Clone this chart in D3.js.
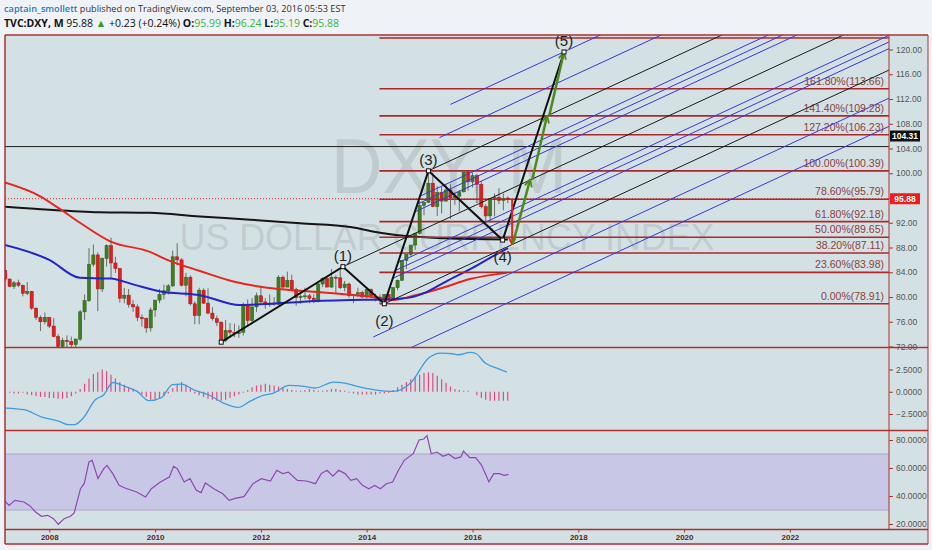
<!DOCTYPE html>
<html>
<head>
<meta charset="utf-8">
<script src="https://cdn.jsdelivr.net/npm/d3@7"></script>
<style>
  body { margin: 0; background: #eff2f6; }
  svg { display: block; font-family: "Liberation Sans", Arial, sans-serif; }
</style>
</head>
<body>
<svg id="chart" width="932" height="550"></svg>
<script>
// DXY monthly candles, first bar = March 2007
var firstYear = 2007, firstMonth = 3;
var opens = [84.3,82.9,81.7,82.3,81.9,80.6,80.9,78.2,76.7,76.0,
  76.7,75.3,73.6,72.0,73.0,72.8,72.3,73.2,77.6,79.4,85.3,86.8,
  81.3,86.2,88.3,85.5,84.6,79.8,80.3,78.8,78.4,76.7,76.5,75.0,
  77.9,79.5,80.4,81.0,81.8,86.5,86.0,81.9,83.2,78.9,77.0,81.1,
  79.0,77.4,76.5,75.9,73.0,74.6,74.3,74.1,74.3,78.6,76.2,78.4,
  80.2,79.2,78.9,79.0,78.8,83.2,81.6,82.7,81.2,79.9,80.1,80.2,
  79.8,79.3,82.1,83.0,81.6,83.2,83.1,81.5,82.1,80.2,80.4,80.7,
  80.0,81.2,80.1,80.0,79.5,80.4,79.8,81.5,82.7,85.9,86.9,88.4,
  90.3,94.8,95.3,98.4,94.6,96.9,95.5,97.3,96.0,96.3,97.0,100.2,
  98.6,99.6,98.2,94.6,93.1,95.9,96.1,95.6,95.99];
var highs = [84.5,83.0,82.6,82.8,82.0,82.4,81.0,78.3,77.0,77.5,
  76.8,76.6,74.0,73.4,73.8,73.6,73.3,77.9,80.4,87.9,88.5,87.2,
  86.4,88.5,89.6,86.5,84.7,81.5,81.3,79.5,78.8,77.2,76.7,78.3,
  79.5,81.3,82.0,82.1,87.5,88.7,86.3,83.9,83.5,79.3,81.5,81.4,
  81.4,78.4,77.0,76.1,76.3,75.8,75.7,75.4,79.1,79.6,79.8,80.7,
  81.8,79.8,80.4,80.0,83.5,83.5,84.1,83.6,81.5,80.4,81.5,80.5,
  80.4,82.3,83.2,83.4,84.5,83.5,84.75,82.6,82.3,80.5,81.5,81.0,
  81.4,81.4,80.5,80.4,80.5,81.0,81.6,82.8,86.0,87.0,88.4,90.4,
  95.5,95.3,100.39,100.1,97.9,97.8,98.2,98.3,97.0,97.3,100.2,100.5,
  100.1,99.9,98.7,95.0,96.0,96.7,97.6,96.7,96.24];
var lows = [82.6,81.6,81.3,81.6,80.1,80.3,77.9,76.3,74.5,75.6,
  75.0,73.5,70.7,71.3,71.9,71.8,71.3,72.9,76.3,79.2,84.9,77.7,
  80.8,84.9,83.0,83.9,79.1,79.0,78.3,77.6,76.1,75.2,74.2,74.4,
  76.8,79.0,79.6,80.4,81.6,85.1,81.7,80.1,78.6,75.6,75.6,78.9,
  77.2,76.2,75.3,72.9,72.7,73.4,73.5,73.4,73.8,75.3,75.9,77.6,
  78.9,78.1,78.4,78.6,78.7,81.4,81.6,81.1,78.6,78.9,79.6,79.0,
  79.0,79.1,81.6,81.6,81.5,80.5,81.3,80.9,79.9,79.0,80.0,79.8,
  79.8,79.8,79.3,79.0,78.91,79.7,79.8,81.1,82.6,84.5,86.5,87.6,
  90.1,93.2,95.2,94.5,93.1,93.5,95.4,92.6,94.9,93.8,96.9,97.2,
  97.7,95.2,94.3,91.9,92.0,93.0,95.0,94.0,95.19];
var closes = [82.9,81.7,82.3,81.9,80.6,80.9,78.2,76.7,76.0,76.7,
  75.3,73.6,72.0,73.0,72.8,72.3,73.2,77.6,79.4,85.3,86.8,81.3,
  86.2,88.3,85.5,84.6,79.8,80.3,78.8,78.4,76.7,76.5,75.0,77.9,
  79.5,80.4,81.0,81.8,86.5,86.0,81.9,83.2,78.9,77.0,81.1,79.0,
  77.4,76.5,75.9,73.0,74.6,74.3,74.1,74.3,78.6,76.2,78.4,80.2,
  79.2,78.9,79.0,78.8,83.2,81.6,82.7,81.2,79.9,80.1,80.2,79.8,
  79.3,82.1,83.0,81.6,83.2,83.1,81.5,82.1,80.2,80.4,80.7,80.0,
  81.2,80.1,80.0,79.5,80.4,79.8,81.5,82.7,85.9,86.9,88.4,90.3,
  94.8,95.3,98.4,94.6,96.9,95.5,97.3,96.0,96.3,97.0,100.2,98.6,
  99.6,98.2,94.6,93.1,95.9,96.1,95.6,95.9,95.88];

// moving averages (decimal year, price)
var maBlackDates = [2007.16,2008.0,2008.95,2009.9,2010.85,2011.8,2012.74,2013.69,2014.25,2014.8,2015.5,2016.67];
var maBlackValues = [94.6,94.1,93.7,93.6,93.0,92.5,91.9,91.3,90.4,89.8,89.5,89.3];
var maRedDates = [2007.16,2007.82,2008.17,2008.58,2009.15,2009.9,2010.23,2010.85,2011.48,2012.12,2012.75,2013.37,2014.0,2014.5,2014.88,2015.44,2015.95,2016.65];
var maRedValues = [98.5,96.3,94.4,92.0,89.0,87.3,86.0,84.2,82.5,81.5,81.0,80.6,80.1,79.5,80.2,81.5,82.9,83.9];
var maBlueDates = [2007.16,2008.0,2008.58,2009.15,2009.6,2010.1,2010.85,2011.6,2012.2,2012.74,2013.69,2014.3,2014.8,2015.13,2015.5,2016.0,2016.39,2016.67];
var maBlueValues = [88.4,86.0,83.1,83.0,82.0,80.9,80.3,78.7,78.9,79.2,79.5,79.6,79.9,80.8,82.5,84.7,86.6,87.9];

// fibonacci extension levels
var fibStart = 2014.24;
var fibLevels = [0, 0.236, 0.382, 0.5, 0.618, 0.786, 1, 1.272, 1.414, 1.618, 2];
var fibPrices = [78.91, 83.98, 87.11, 89.65, 92.18, 95.79, 100.39, 106.23, 109.28, 113.66, 121.87];

// elliott wave points
var waveDates = [2011.25, 2013.55, 2014.333, 2015.167, 2016.57, 2017.73];
var wavePrices = [72.7, 84.9, 78.91, 100.39, 89.2, 119.6];
var waveLabels = ["", "(1)", "(2)", "(3)", "(4)", "(5)"];

// pitchfork on waves 1,2,3
var pitchforkLevels = [-2, -1.5, -1, -0.618, -0.5, -0.382, 0, 0.382, 0.5, 0.618, 1, 1.5, 2];

// projection arrows
var redArrowDates = [2016.75, 2016.75];
var redArrowPrices = [95.9, 88.5];
var greenArrowDates = [[2016.76, 2017.09], [2017.13, 2017.41], [2017.45, 2017.73]];
var greenArrowPrices = [[88.5, 99.0], [99.0, 109.3], [109.3, 119.6]];

var hLinePrice = 104.31;
var lastPrice = 95.88;

// MACD (12,26,9)
var macdDates = [2007.18,2007.52,2007.86,2008.19,2008.36,2008.47,2008.64,2008.87,2009.03,2009.2,2009.43,2009.66,2009.88,2010.11,2010.33,2010.5,2010.73,2011.01,2011.29,2011.57,2011.79,2012.02,2012.24,2012.53,2012.81,2013.03,2013.37,2013.59,2013.82,2014.16,2014.5,2014.83,2015.17,2015.4,2015.62,2015.73,2015.96,2016.07,2016.24,2016.46,2016.65];
var macdValues = [-1.83,-2.02,-2.84,-3.33,-3.7,-3.7,-2.96,-0.9,-0.34,1.04,0.6,0.04,-1.0,-0.7,0.8,0.86,0.22,-0.34,-1.27,-1.76,-1.09,-0.45,-0.15,0.71,0.6,0.42,1.09,0.98,0.6,0.22,0.04,0.98,3.79,4.35,4.27,4.16,4.42,4.27,3.22,2.66,2.21];
var macdHist = [-0.1,-0.1,-0.2,-0.2,-0.1,-0.3,-0.4,-0.5,-0.6,-0.6,-0.7,-0.7,-0.8,-0.8,-0.7,-0.5,-0.2,
  0.3,0.9,1.5,2.0,2.2,2.5,2.3,1.9,1.5,1.1,0.8,0.5,0.3,0.1,
  -0.3,-0.6,-0.9,-1.0,-0.8,-0.5,-0.2,
  0.4,0.9,1.1,0.8,0.4,
  -0.2,-0.4,-0.6,-0.8,-0.9,-1.0,-1.0,-0.9,-0.7,-0.5,-0.3,-0.1,
  0.2,0.5,0.7,0.8,0.9,0.8,0.7,0.6,0.4,0.3,0.2,0.1,
  0.1,0.2,0.3,0.2,0.1,0.1,0.2,0.3,0.3,0.2,0.1,
  -0.1,-0.2,-0.3,-0.3,-0.3,-0.3,-0.3,-0.2,-0.2,-0.1,
  0.2,0.5,0.8,1.1,1.4,1.7,1.9,2.1,2.2,2.1,1.8,1.4,1.0,0.6,
  0.3,0.2,0.1,0.1,0.0,
  -0.4,-0.7,-0.9,-1.0,-1.0,-1.0,-1.0,-1.0];

// RSI(14)
var rsiDates = [2007.16,2007.24,2007.35,2007.52,2007.63,2007.74,2007.85,2007.97,2008.08,2008.17,2008.28,2008.4,2008.47,2008.59,2008.66,2008.75,2008.81,2008.92,2009.03,2009.09,2009.2,2009.32,2009.43,2009.65,2009.82,2009.93,2010.1,2010.27,2010.35,2010.42,2010.55,2010.66,2010.78,2010.87,2010.95,2011.11,2011.28,2011.4,2011.51,2011.68,2011.85,2012.01,2012.18,2012.3,2012.41,2012.52,2012.69,2012.86,2013.03,2013.14,2013.25,2013.36,2013.47,2013.59,2013.7,2013.81,2013.92,2014.04,2014.15,2014.26,2014.37,2014.49,2014.6,2014.71,2014.88,2014.99,2015.08,2015.14,2015.22,2015.33,2015.44,2015.55,2015.67,2015.78,2015.83,2015.95,2016.06,2016.17,2016.26,2016.31,2016.4,2016.51,2016.6,2016.68];
var rsiValues = [36.5,33.3,36.9,35.7,33.1,28.6,25.5,26.2,23.8,19.8,23.8,25.5,27.9,45.2,48.8,64.3,65.5,52.4,59.5,61.9,56,47.6,45.7,42.9,39.3,45.2,50,53.6,61.2,59.5,50,52.4,44.1,42.4,49.3,45.2,41.6,36.9,38.3,39.5,48.8,52.4,50.7,58.4,56,57.1,51.2,50.7,48.8,56,58.4,54.1,58.4,56,51.2,52.4,47.6,45.2,47.6,45.2,48.8,50,58.4,65.5,70.2,80,80.7,83.1,70.2,71.4,68.4,69.8,66.7,67.9,72.1,67.4,67.4,62.1,54.5,50,56,56,54.8,55.5];

var priceTicks = [72,76,80,84,88,92,96,100,104,108,112,116,120];
var macdTicks = [-2.5, 0, 2.5];
var rsiTicks = [20, 40, 60, 80];
var yearTicks = [2008,2010,2012,2014,2016,2018,2020,2022];

// ---- layout ----
var L = 5, R = 889, frameR = 928;
var mainTop = 35, mainBot = 347.5, macdBot = 430.5, rsiBot = 529.5, axisBot = 544;
var frameColor = "#b0302f";

var x = d3.scaleLinear().domain([2008, 2022]).range([49.3, 789.9]);
var yP = d3.scaleLinear().domain([80, 120]).range([297, 49.5]);
var yM = d3.scaleLinear().domain([-2.5, 2.5]).range([414, 369.5]);
var yR = d3.scaleLinear().domain([20, 80]).range([524, 440]);

var candles = opens.map(function(o, i) {
  return {d: firstYear + (firstMonth - 1 + i) / 12, o: o, h: highs[i], l: lows[i], c: closes[i], hist: macdHist[i]};
});

var svg = d3.select("#chart");
var defs = svg.append("defs");
function addClip(id, y0, y1) {
  defs.append("clipPath").attr("id", id).append("rect")
    .attr("x", L).attr("y", y0).attr("width", R - L).attr("height", y1 - y0);
}
addClip("clipMain", mainTop, mainBot);
addClip("clipMacd", mainBot, macdBot);
addClip("clipRsi", macdBot, rsiBot);

function arrowMarker(id, color) {
  defs.append("marker").attr("id", id)
    .attr("viewBox", "0 0 10 10").attr("refX", 9).attr("refY", 5)
    .attr("markerWidth", 9).attr("markerHeight", 9)
    .attr("markerUnits", "userSpaceOnUse").attr("orient", "auto")
    .append("path").attr("d", "M1,1 L9,5 L1,9")
    .attr("fill", "none").attr("stroke", color).attr("stroke-width", 2);
}
arrowMarker("arrGreen", "#4a8a1f");
arrowMarker("arrRed", "#e8221c");

// panel background
svg.append("rect").attr("x", L).attr("y", mainTop).attr("width", frameR - L).attr("height", axisBot - mainTop)
  .attr("fill", "#d4e1e4");

// ---- header ----
var head1 = svg.append("text").attr("x", 4).attr("y", 12).attr("font-family", "'Open Sans', sans-serif")
  .attr("font-size", 9.2);
head1.append("tspan").attr("fill", "#1f7dbf").attr("font-weight", 600).text("captain_smollett");
head1.append("tspan").attr("fill", "#333").text(" published on TradingView.com, September 03, 2016 05:53 EST");

var head2 = svg.append("text").attr("x", 4).attr("y", 27).attr("font-family", "'Open Sans', sans-serif")
  .attr("font-size", 10.5).attr("fill", "#111");
head2.append("tspan").attr("font-weight", 700).text("TVC:DXY, M");
head2.append("tspan").text(" 95.88 ");
head2.append("tspan").attr("fill", "#2e9e2e").text("\u25B2");
head2.append("tspan").text(" +0.23 (+0.24%) ");
[["O:", "95.99"], [" H:", "96.24"], [" L:", "95.19"], [" C:", "95.88"]].forEach(function(p) {
  head2.append("tspan").attr("font-weight", 700).text(p[0]);
  head2.append("tspan").attr("fill", "#3fb33f").text(p[1]);
});

// ---- main pane ----
var main = svg.append("g").attr("clip-path", "url(#clipMain)");

main.append("text").attr("x", 449).attr("y", 193).attr("text-anchor", "middle")
  .attr("font-size", 77).attr("textLength", 236).attr("lengthAdjust", "spacingAndGlyphs")
  .attr("fill", "#8f999c").attr("fill-opacity", 0.3).text("DXY, M");
main.append("text").attr("x", 447).attr("y", 250).attr("text-anchor", "middle")
  .attr("font-size", 37).attr("textLength", 535).attr("lengthAdjust", "spacingAndGlyphs")
  .attr("fill", "#8f999c").attr("fill-opacity", 0.3).text("US DOLLAR CURRENCY INDEX");

// candles
var cg = main.append("g");
cg.selectAll("line.wick").data(candles).enter().append("line")
  .attr("x1", function(d) { return x(d.d); }).attr("x2", function(d) { return x(d.d); })
  .attr("y1", function(d) { return yP(d.h); }).attr("y2", function(d) { return yP(d.l); })
  .attr("stroke", "#6b6b6b").attr("stroke-width", 1);
cg.selectAll("rect").data(candles).enter().append("rect")
  .attr("x", function(d) { return x(d.d) - 1.6; }).attr("width", 3.2)
  .attr("y", function(d) { return yP(Math.max(d.o, d.c)); })
  .attr("height", function(d) { return Math.max(1, Math.abs(yP(d.o) - yP(d.c))); })
  .attr("fill", function(d) { return d.c >= d.o ? "#3f7d22" : "#dc1f1f"; })
  .attr("stroke", function(d) { return d.c >= d.o ? "#2d5e17" : "#b01515"; }).attr("stroke-width", 0.5);

// moving averages
var maLine = d3.line().x(function(d) { return x(d[0]); }).y(function(d) { return yP(d[1]); }).curve(d3.curveMonotoneX);
[[maBlackDates, maBlackValues, "#151515"], [maRedDates, maRedValues, "#e8261e"], [maBlueDates, maBlueValues, "#2424c8"]].forEach(function(m) {
  main.append("path").datum(d3.zip(m[0], m[1])).attr("d", maLine)
    .attr("fill", "none").attr("stroke", m[2]).attr("stroke-width", 2);
});

// last price dotted + horizontal line
main.append("line").attr("x1", L).attr("x2", R).attr("y1", yP(lastPrice)).attr("y2", yP(lastPrice))
  .attr("stroke", "#e8221c").attr("stroke-width", 1).attr("stroke-dasharray", "1,2");
main.append("line").attr("x1", L).attr("x2", R).attr("y1", yP(hLinePrice)).attr("y2", yP(hLinePrice))
  .attr("stroke", "#1a1a1a").attr("stroke-width", 1);

// fibonacci
fibLevels.forEach(function(lv, i) {
  var yy = yP(fibPrices[i]);
  main.append("line").attr("x1", x(fibStart)).attr("x2", R).attr("y1", yy).attr("y2", yy)
    .attr("stroke", "#a82a2a").attr("stroke-width", 1.6);
  main.append("text").attr("x", 884).attr("y", yy - 4).attr("text-anchor", "end")
    .attr("font-size", 10.5).attr("fill", "#8b4040")
    .text((lv * 100).toFixed(2) + "%(" + fibPrices[i].toFixed(2) + ")");
});

// pitchfork
var pA = {d: waveDates[1], p: wavePrices[1]};
var pB = {d: waveDates[2], p: wavePrices[2]};
var pC = {d: waveDates[3], p: wavePrices[3]};
var pM = {d: (pB.d + pC.d) / 2, p: (pB.p + pC.p) / 2};
var dir = {d: pM.d - pA.d, p: pM.p - pA.p};
pitchforkLevels.forEach(function(f) {
  var s = f === 0 ? pA : {d: pM.d + f * (pB.d - pM.d), p: pM.p + f * (pB.p - pM.p)};
  var t = (2025 - s.d) / dir.d;
  var strong = f === 0 || Math.abs(f) === 1;
  main.append("line")
    .attr("x1", x(s.d)).attr("y1", yP(s.p))
    .attr("x2", x(s.d + t * dir.d)).attr("y2", yP(s.p + t * dir.p))
    .attr("stroke", strong ? "#1c1c1c" : "#3838da").attr("stroke-width", 1);
});

// elliott wave path
main.append("path").datum(d3.zip(waveDates, wavePrices))
  .attr("d", d3.line().x(function(d) { return x(d[0]); }).y(function(d) { return yP(d[1]); }))
  .attr("fill", "none").attr("stroke", "#111").attr("stroke-width", 2);

// arrows
main.append("line").attr("x1", x(redArrowDates[0])).attr("y1", yP(redArrowPrices[0]))
  .attr("x2", x(redArrowDates[1])).attr("y2", yP(redArrowPrices[1]))
  .attr("stroke", "#e8221c").attr("stroke-width", 2).attr("marker-end", "url(#arrRed)");
greenArrowDates.forEach(function(ds, i) {
  main.append("line").attr("x1", x(ds[0])).attr("y1", yP(greenArrowPrices[i][0]))
    .attr("x2", x(ds[1])).attr("y2", yP(greenArrowPrices[i][1]))
    .attr("stroke", "#4a8a1f").attr("stroke-width", 2.5).attr("marker-end", "url(#arrGreen)");
});

// wave markers and labels
waveDates.forEach(function(d, i) {
  main.append("rect").attr("x", x(d) - 2).attr("y", yP(wavePrices[i]) - 2).attr("width", 4).attr("height", 4)
    .attr("fill", "#fff").attr("stroke", "#111");
  if (!waveLabels[i]) return;
  var below = (i === 2 || i === 4);
  main.append("text").attr("x", x(d)).attr("y", yP(wavePrices[i]) + (below ? 22 : -6))
    .attr("text-anchor", "middle").attr("font-size", 15).attr("fill", "#222").text(waveLabels[i]);
});

// ---- MACD pane ----
var macd = svg.append("g").attr("clip-path", "url(#clipMacd)");
macd.selectAll("line").data(candles).enter().append("line")
  .attr("x1", function(d) { return x(d.d); }).attr("x2", function(d) { return x(d.d); })
  .attr("y1", yM(0)).attr("y2", function(d) { return yM(d.hist); })
  .attr("stroke", "#e04a80").attr("stroke-width", 1.2);
macd.append("path").datum(d3.zip(macdDates, macdValues))
  .attr("d", d3.line().x(function(d) { return x(d[0]); }).y(function(d) { return yM(d[1]); }).curve(d3.curveMonotoneX))
  .attr("fill", "none").attr("stroke", "#3e9be0").attr("stroke-width", 1.3);

// ---- RSI pane ----
var rsi = svg.append("g").attr("clip-path", "url(#clipRsi)");
rsi.append("rect").attr("x", L).attr("width", R - L).attr("y", yR(70)).attr("height", yR(30) - yR(70))
  .attr("fill", "#c9c7e6");
[70, 30].forEach(function(v) {
  rsi.append("line").attr("x1", L).attr("x2", R).attr("y1", yR(v)).attr("y2", yR(v))
    .attr("stroke", "#a9a6c6").attr("stroke-width", 1);
});
rsi.append("path").datum(d3.zip(rsiDates, rsiValues))
  .attr("d", d3.line().x(function(d) { return x(d[0]); }).y(function(d) { return yR(d[1]); }))
  .attr("fill", "none").attr("stroke", "#8e48b0").attr("stroke-width", 1.2);

// ---- axes ----
function styleAxis(g) {
  g.select(".domain").remove();
  g.selectAll(".tick line").attr("stroke", frameColor);
  g.selectAll(".tick text").attr("fill", "#555").attr("font-size", 8.5)
    .attr("font-family", "'Liberation Sans', Arial, sans-serif");
}
svg.append("g").attr("transform", "translate(" + R + ",0)")
  .call(d3.axisRight(yP).tickValues(priceTicks).tickFormat(d3.format(".2f")).tickSize(4).tickPadding(3))
  .call(styleAxis);
svg.append("g").attr("transform", "translate(" + R + ",0)")
  .call(d3.axisRight(yM).tickValues(macdTicks).tickFormat(d3.format(".4f")).tickSize(4).tickPadding(3))
  .call(styleAxis);
svg.append("g").attr("transform", "translate(" + R + ",0)")
  .call(d3.axisRight(yR).tickValues(rsiTicks).tickFormat(d3.format(".4f")).tickSize(4).tickPadding(3))
  .call(styleAxis);
svg.append("g").attr("transform", "translate(0," + rsiBot + ")")
  .call(d3.axisBottom(x).tickValues(yearTicks).tickFormat(d3.format("d")).tickSize(3).tickPadding(2))
  .call(styleAxis)
  .call(function(g) { g.selectAll(".tick text").attr("fill", "#5e2222").attr("font-weight", "bold").attr("font-size", 8); });

// price tags
function priceTag(y, label, bg) {
  svg.append("rect").attr("x", 890).attr("y", y - 5.5).attr("width", 30).attr("height", 11).attr("fill", bg);
  svg.append("text").attr("x", 905).attr("y", y + 3).attr("text-anchor", "middle")
    .attr("font-size", 8.5).attr("font-weight", "bold").attr("fill", "#fff").text(label);
}
priceTag(136, hLinePrice.toFixed(2), "#111");
priceTag(yP(lastPrice), lastPrice.toFixed(2), "#f01c1c");

// ---- frame ----
var frame = svg.append("g").attr("stroke", frameColor).attr("fill", "none");
[mainTop, mainBot, macdBot, rsiBot, axisBot].forEach(function(yy) {
  frame.append("line").attr("x1", L).attr("x2", frameR).attr("y1", yy).attr("y2", yy).attr("stroke-width", 1.5);
});
frame.append("line").attr("x1", L).attr("x2", L).attr("y1", mainTop).attr("y2", axisBot).attr("stroke-width", 1.5);
frame.append("line").attr("x1", R).attr("x2", R).attr("y1", mainTop).attr("y2", rsiBot).attr("stroke-width", 1);
frame.append("line").attr("x1", frameR).attr("x2", frameR).attr("y1", mainTop).attr("y2", axisBot).attr("stroke-width", 1);
</script>
</body>
</html>
